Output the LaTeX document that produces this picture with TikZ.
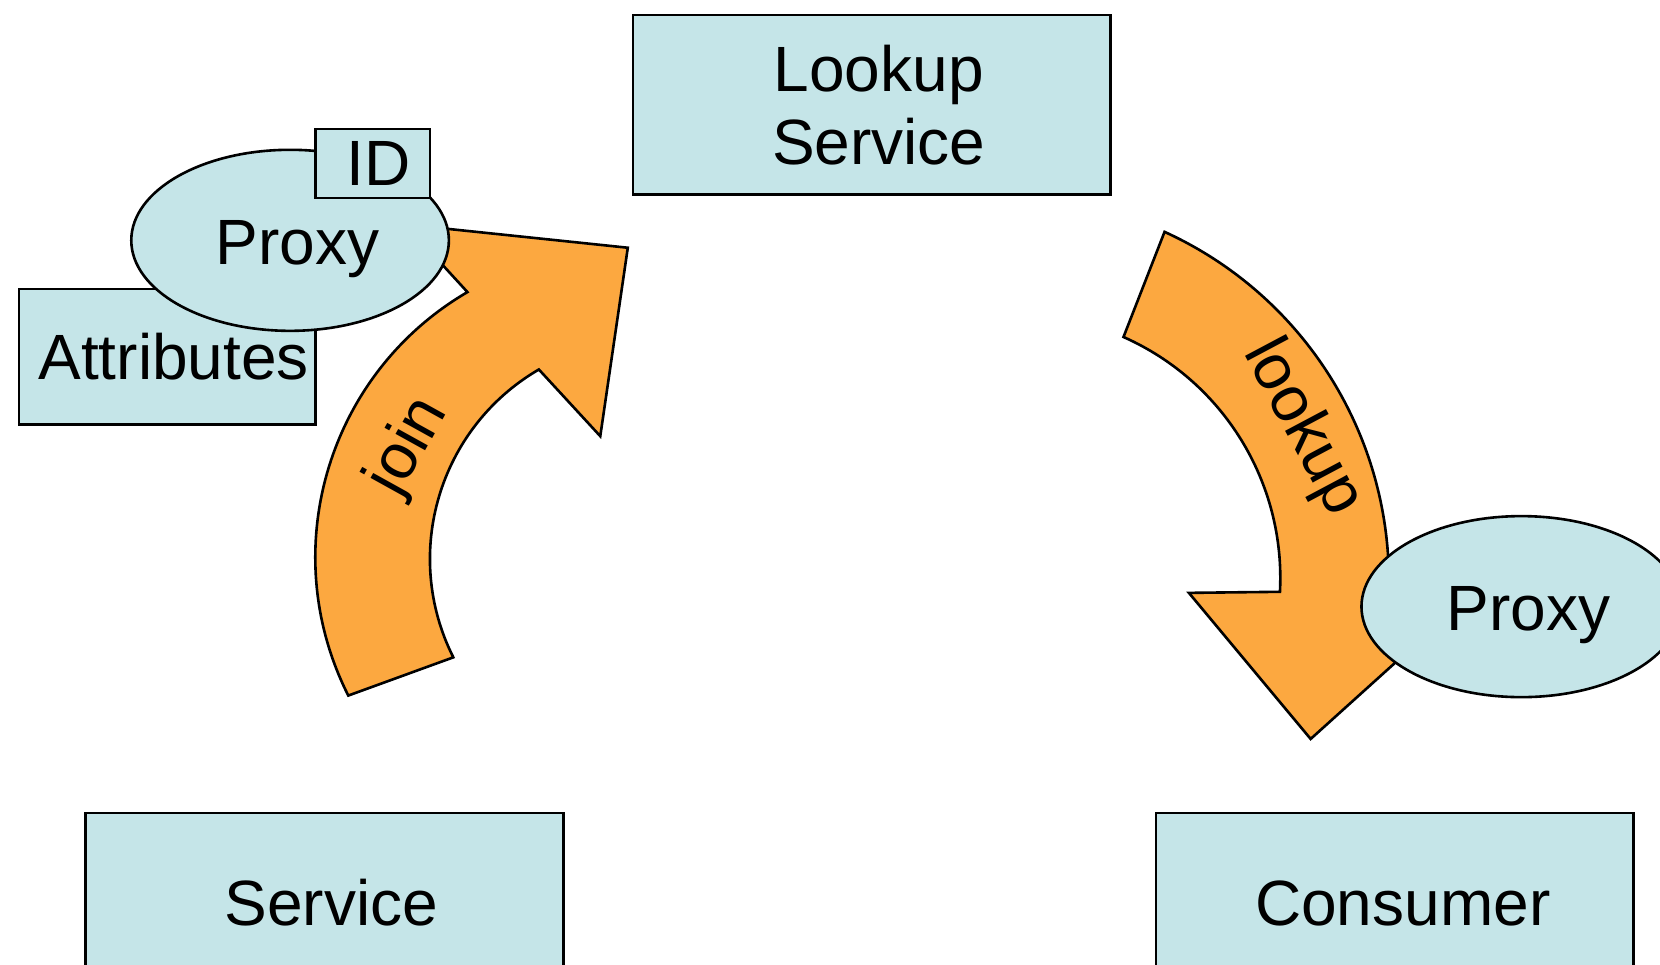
\documentclass[tikz,border=0pt]{standalone}
\usepackage{fontspec}
\setmainfont{Liberation Sans}

\definecolor{boxblue}{RGB}{197,229,232}
\definecolor{arrorange}{RGB}{252,168,64}

\tikzset{
  box/.style={draw, fill=boxblue, line width=0.7pt},
  bigarrow/.style={draw, fill=arrorange, line width=0.7pt},
}

\begin{document}
\begin{tikzpicture}[font=\fontsize{17.2}{19.7}\selectfont]

\clip (0,0) rectangle (15.68,9.11);

% join arrow corners
\coordinate (J1) at (3.29,2.54);
\coordinate (J2) at (3.83,6.99);
\coordinate (J3) at (5.93,6.77);
\coordinate (J4) at (5.67,4.99);
\coordinate (J5) at (5.09,5.62);

% lookup arrow corners
\coordinate (L1) at (11.00,6.92);
\coordinate (L2) at (13.91,3.51);
\coordinate (L3) at (12.38,2.13);
\coordinate (L4) at (11.23,3.51);
\coordinate (L5) at (12.09,3.52);

\draw[box] (5.98,7.27) rectangle (10.49,8.97);
\draw[box] (0.81,-0.27) rectangle (5.32,1.43);
\draw[box] (10.92,-0.27) rectangle (15.43,1.43);
\draw[box] (0.18,5.10) rectangle (2.98,6.38);

\node[align=center] (lus) at (8.30,8.12) {Lookup\\Service};
\node (svc) at (3.13,0.58) {Service};
\node (cons) at (13.25,0.58) {Consumer};
\node (attr) at (1.64,5.74) {Attributes};

\draw[bigarrow] (J1) arc[start angle=206.8, end angle=120.3, radius=2.9] -- (J2) -- (J3)
  -- (J4) -- (J5) arc[start angle=120.2, end angle=206.7, radius=2.07] -- cycle;
\node[rotate=61] (join) at (3.86,4.89) {join};

\draw[box] (2.74,6.84) ellipse [x radius=1.5, y radius=0.855];
\node (sproxy) at (2.81,6.76) {Proxy};
\draw[box] (2.98,7.24) rectangle (4.06,7.89);
\node (id) at (3.575,7.565) {ID};

\draw[bigarrow] (L1) arc[start angle=65.5, end angle=-1.8, radius=3.62] -- (L2) -- (L3)
  -- (L4) -- (L5) arc[start angle=-3, end angle=66.1, radius=2.49] -- cycle;
\node[rotate=-62] (look) at (12.30,5.07) {lookup};

\draw[box] (14.37,3.38) ellipse [x radius=1.51, y radius=0.855];
\node (cproxy) at (14.435,3.30) {Proxy};

\end{tikzpicture}
\end{document}
